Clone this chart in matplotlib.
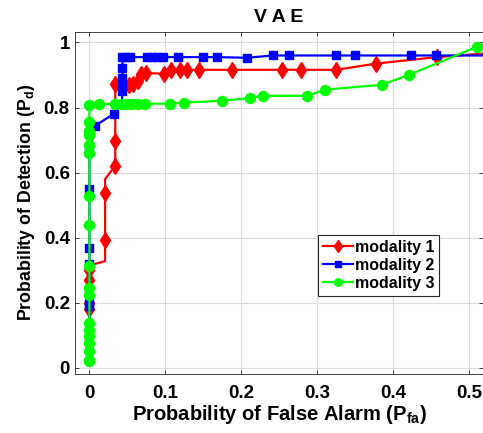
import numpy as np
import matplotlib
matplotlib.use('Agg')
import matplotlib.pyplot as plt
import matplotlib as mpl

# ---------------- style ----------------
mpl.rcParams.update({
    'font.family': 'Liberation Sans',
    'font.weight': 'bold',
    'mathtext.fontset': 'custom',
    'mathtext.rm': 'Liberation Sans:bold',
    'mathtext.bf': 'Liberation Sans:bold',
    'mathtext.it': 'Liberation Sans:bold',
    'xtick.direction': 'in',
    'ytick.direction': 'in',
    'xtick.top': True,
    'ytick.right': True,
})

# ---------------- ROC curves (Pfa, Pd) ----------------
# modality 1
pfa_1 = [0, 0, 0, 0, 0, 0, 0.0206, 0.0206, 0.0206, 0.0206, 0.034, 0.034, 0.034,
         0.042, 0.052, 0.058, 0.064, 0.068, 0.074, 0.098, 0.108, 0.119, 0.128,
         0.144, 0.188, 0.254, 0.279, 0.325, 0.377, 0.457, 0.52]
pd_1 = [0.03, 0.18, 0.20, 0.27, 0.30, 0.315, 0.328, 0.393, 0.537, 0.58, 0.622, 0.696, 0.872,
        0.872, 0.868, 0.872, 0.882, 0.904, 0.906, 0.904, 0.916, 0.916, 0.916,
        0.916, 0.916, 0.916, 0.916, 0.916, 0.935, 0.955, 0.966]
mk_1 = [1, 2, 3, 4, 7, 8, 10, 11, 12, 13, 14, 15, 16, 17, 18, 19, 20, 21, 22,
        23, 24, 25, 26, 27, 28, 29]

# modality 2
pfa_2 = [0, 0, 0, 0, 0, 0, 0, 0.0075, 0.0322, 0.043, 0.043, 0.043, 0.043, 0.0435,
         0.0435, 0.048, 0.054, 0.0754, 0.082, 0.0886, 0.097, 0.117, 0.15, 0.1675,
         0.207, 0.242, 0.263, 0.3246, 0.3496, 0.423, 0.456, 0.52]
pd_2 = [0.03, 0.19, 0.20, 0.32, 0.37, 0.55, 0.662, 0.744, 0.781, 0.82, 0.85, 0.862, 0.89,
        0.921, 0.955, 0.955, 0.955, 0.955, 0.955, 0.955, 0.955, 0.955, 0.955,
        0.955, 0.953, 0.96, 0.96, 0.96, 0.96, 0.96, 0.96, 0.96]
mk_2 = [1, 2, 3, 4, 5, 6, 7, 8, 10, 11, 12, 13, 14, 15, 16, 17, 18, 19, 20, 21,
        22, 23, 24, 25, 26, 27, 28, 29, 30]

# modality 3
pfa_3 = [0, 0, 0, 0, 0, 0, 0, 0, 0, 0, 0, 0, 0, 0, 0, 0, 0, 0, 0.012,
         0.034, 0.0426, 0.049, 0.0557, 0.0645, 0.073, 0.106, 0.124, 0.174,
         0.2115, 0.228, 0.287, 0.31, 0.385, 0.42, 0.5105, 0.52]
pd_3 = [0.02, 0.025, 0.051, 0.076, 0.097, 0.118, 0.138, 0.225, 0.245, 0.312,
        0.44, 0.527, 0.66, 0.686, 0.716, 0.728, 0.757, 0.808, 0.81,
        0.812, 0.812, 0.812, 0.812, 0.812, 0.812, 0.812, 0.815, 0.821,
        0.829, 0.836, 0.836, 0.855, 0.87, 0.90, 0.987, 0.995]
mk_3 = list(range(0, 35))

# ---------------- figure ----------------
fig = plt.figure(figsize=(4.83, 4.33), dpi=100)
ax = fig.add_axes([0.156, 0.137, 0.844, 0.789])

lw = 1.6
ax.plot(pfa_1, pd_1, '-d', color='#ff0000', lw=lw, ms=8.5, markevery=mk_1,
        label='modality 1')
ax.plot(pfa_2, pd_2, '-s', color='#0000ff', lw=lw, ms=6.3, markevery=mk_2,
        label='modality 2')
ax.plot(pfa_3, pd_3, '-o', color='#00ff00', lw=lw, ms=7.2, markevery=mk_3,
        label='modality 3')

ax.set_xlim(-0.0185, 0.518)
ax.set_ylim(-0.0175, 1.032)
ax.set_xticks([0, 0.1, 0.2, 0.3, 0.4, 0.5])
ax.set_xticklabels(['0', '0.1', '0.2', '0.3', '0.4', '0.5'])
ax.set_yticks([0, 0.2, 0.4, 0.6, 0.8, 1.0])
ax.set_yticklabels(['0', '0.2', '0.4', '0.6', '0.8', '1'])
ax.tick_params(labelsize=13.5, length=3, width=0.6, color='#262626')
ax.tick_params(axis='x', pad=8)
ax.tick_params(axis='y', pad=4)

ax.grid(True, color='#dcdcdc', lw=0.8)
ax.set_axisbelow(True)
for s in ax.spines.values():
    s.set_color('#262626')
    s.set_linewidth(0.6)

ax.set_title('V A E', fontsize=14, fontweight='bold', pad=7)
ax.set_xlabel(r'Probability of False Alarm (P$_{\mathbf{fa}}$)', fontsize=14.5,
              fontweight='bold', labelpad=1)
ax.set_ylabel(r'Probability of Detection (P$_{\mathbf{d}}$)', fontsize=12.8,
              fontweight='bold', labelpad=5)

leg = ax.legend(loc='lower right', bbox_to_anchor=(0.893, 0.228), fontsize=11.5,
                fancybox=False, edgecolor='#262626', framealpha=1,
                handlelength=1.9, handletextpad=0.1, borderpad=0.3,
                labelspacing=0.2, borderaxespad=0, markerscale=0.75)
leg.get_frame().set_linewidth(0.8)

fig.savefig('out.png', dpi=100)
